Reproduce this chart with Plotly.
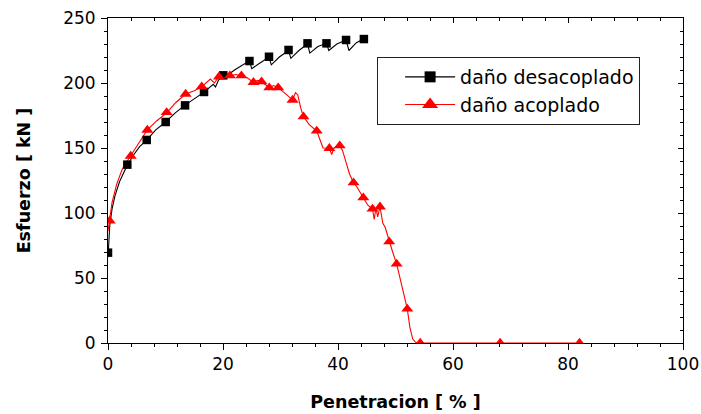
import plotly.graph_objects as go

# ---- data ----
# daño desacoplado (black): curve points and marker points
desac_line_x = [0, 0.3, 0.7, 1.2, 2.0, 3.36, 4.5, 5.5, 6.73, 8.3, 10.03, 11.7, 13.4, 15.0, 16.7,
                18.3, 18.7, 19.2, 20.05, 20.5, 22.0, 24.6, 25.0, 26.3, 28.0, 28.4, 29.8, 31.4,
                31.8, 33.2, 34.7, 35.1, 36.5, 38.0, 38.4, 39.8, 41.4, 41.9, 43.2, 44.5]
desac_line_y = [66, 90, 103, 113, 124, 137, 145, 151, 156, 164, 170, 177, 183, 188, 193,
                199, 197, 202, 206, 205, 210, 217, 211, 215, 220, 214, 220, 225,
                219, 225, 230, 223, 228, 230.5, 225, 230, 233, 225, 231, 234]
desac_mark_x = [0, 3.36, 6.73, 10.03, 13.4, 16.7, 20.05, 24.6, 28.0, 31.4, 34.7, 38.0, 41.4, 44.5]
desac_mark_y = [69.5, 137.2, 156.2, 170, 182.8, 193.1, 205.9, 216.9, 220.2, 225.4, 230.5, 230.5, 233.1, 233.8]

# daño acoplado (red)
acop_line_x = [0, 0.3, 0.7, 1.5, 2.5, 3.94, 5.2, 6.84, 8.5, 10.2, 11.8, 13.5, 15.0, 16.3, 17.8,
               18.5, 19.3, 20.3, 21.2, 22.2, 23.2, 24.2, 25.3, 26.0, 26.7, 27.3, 28.05, 28.8,
               29.6, 30.8, 32.1, 32.6, 33.0, 33.5, 34.0, 35.0, 36.3, 36.9, 37.4, 38.5, 38.9,
               39.3, 40.3, 40.8, 41.3, 42.0, 42.7, 43.3, 44.4, 45.2, 46.0, 46.3, 46.6, 46.9,
               47.3, 47.8, 48.2, 48.9, 49.5, 50.2, 50.8, 51.4, 52.05, 52.5, 53.0, 53.5, 54.3,
               68.2, 82.0]
acop_line_y = [86, 94, 108, 122, 134, 144, 153, 164, 171, 177, 185, 191.5, 194, 197, 203,
               200, 205, 206, 205.6, 206.5, 205.6, 204, 200.5, 202, 201, 199, 196.4, 198,
               196.4, 192, 187, 192.5, 191, 181, 174, 168, 163, 156, 150, 149.8, 145,
               150, 151.8, 148, 140, 130, 123.3, 120, 111.8, 106, 103.1, 95, 104, 97,
               104.8, 92, 89, 77.9, 70, 60.8, 50, 40, 26.2, 12, 3, 0.5, 0,
               0, 0]
acop_mark_x = [0.3, 3.94, 6.84, 10.2, 13.5, 16.3, 19.3, 21.2, 23.2, 25.3, 26.7, 28.05, 29.6,
               32.1, 34.0, 36.3, 38.5, 40.3, 42.7, 44.4, 46.0, 47.3, 48.9, 50.2, 52.05, 54.3,
               68.2, 82.0]
acop_mark_y = [94, 143.8, 163.8, 177.4, 191.5, 197.2, 204.8, 205.6, 205.6, 200.5, 201, 196.4,
               196.4, 186.9, 174.1, 163.1, 149.8, 151.8, 123.3, 111.8, 103.1, 104.8, 77.9,
               60.8, 26.2, 0, 0, 0]

series_names = ["daño desacoplado", "daño acoplado"]
x_title = "Penetracion [ % ]"
y_title = "Esfuerzo [ kN ]"
x_ticks = [0, 20, 40, 60, 80, 100]
y_ticks = [0, 50, 100, 150, 200, 250]

FONT = "DejaVu Sans"
BLACK = "#000000"
RED = "#ff0000"

fig = go.Figure()

# lines
fig.add_trace(go.Scatter(x=desac_line_x, y=desac_line_y, mode="lines",
                         line=dict(color=BLACK, width=1.1), showlegend=False, hoverinfo="skip"))
fig.add_trace(go.Scatter(x=acop_line_x, y=acop_line_y, mode="lines",
                         line=dict(color=RED, width=1.1), showlegend=False, hoverinfo="skip"))
# markers
fig.add_trace(go.Scatter(x=desac_mark_x, y=desac_mark_y, mode="markers",
                         marker=dict(symbol="square", size=8.5, color=BLACK), showlegend=False))
fig.add_trace(go.Scatter(x=acop_mark_x, y=acop_mark_y, mode="markers",
                         marker=dict(symbol="triangle-up", size=10.5, color=RED), showlegend=False))
# legend entries
fig.add_trace(go.Scatter(x=[None], y=[None], mode="lines+markers", name=series_names[0],
                         line=dict(color=BLACK, width=1.1),
                         marker=dict(symbol="square", size=11, color=BLACK)))
fig.add_trace(go.Scatter(x=[None], y=[None], mode="lines+markers", name=series_names[1],
                         line=dict(color=RED, width=1.1),
                         marker=dict(symbol="triangle-up", size=14, color=RED)))
# dummy trace for top/right mirror axes
fig.add_trace(go.Scatter(x=[None], y=[None], xaxis="x2", yaxis="y2", showlegend=False,
                         hoverinfo="skip"))

tickfont = dict(family=FONT, size=17, color="black")
titlefont = dict(family=FONT, size=17.5, color="black", weight="bold")

fig.update_layout(
    template="none",
    width=701, height=414,
    margin=dict(l=108, r=18, t=18, b=71, autoexpand=False),
    paper_bgcolor="white", plot_bgcolor="white",
    xaxis=dict(range=[0, 100], tickvals=x_ticks, ticks="outside", ticklen=6, tickwidth=1,
               tickcolor="black", linecolor="black", linewidth=1, showline=True,
               showgrid=False, zeroline=False, tickfont=tickfont, automargin=False,
               minor=dict(dtick=4, tick0=0, ticks="outside", ticklen=3, tickcolor="black",
                          showgrid=False),
               title=dict(text=x_title, font=titlefont, standoff=22)),
    yaxis=dict(range=[0, 250], tickvals=y_ticks, ticks="outside", ticklen=6, tickwidth=1,
               tickcolor="black", linecolor="black", linewidth=1, showline=True,
               showgrid=False, zeroline=False, tickfont=tickfont, automargin=False,
               ticklabelstandoff=2,
               minor=dict(dtick=10, tick0=0, ticks="outside", ticklen=3, tickcolor="black",
                          showgrid=False),
               title=dict(text=y_title, font=titlefont, standoff=28)),
    xaxis2=dict(range=[0, 100], overlaying="x", side="top", anchor="y", tickvals=x_ticks,
                ticks="inside", ticklen=5, tickcolor="black", showticklabels=False,
                showline=True, linecolor="black", linewidth=1, showgrid=False, zeroline=False,
                automargin=False,
                minor=dict(dtick=4, tick0=0, ticks="inside", ticklen=3, tickcolor="black",
                           showgrid=False)),
    yaxis2=dict(range=[0, 250], overlaying="y", side="right", anchor="x", tickvals=y_ticks,
                ticks="inside", ticklen=5, tickcolor="black", showticklabels=False,
                showline=True, linecolor="black", linewidth=1, showgrid=False, zeroline=False,
                automargin=False,
                minor=dict(dtick=10, tick0=0, ticks="inside", ticklen=3, tickcolor="black",
                           showgrid=False)),
    legend=dict(x=0.468, y=0.88, xanchor="left", yanchor="top",
                bgcolor="white", bordercolor="#222222", borderwidth=1,
                font=dict(family=FONT, size=19, color="black"),
                itemwidth=50, tracegroupgap=0, indentation=22, entrywidth=248),
    showlegend=True,
)

# remove the browser's default page margin so the 701x414 figure fills the window
fig.write_html("out.html",
               config={"displayModeBar": False},
               post_script="document.body.style.margin='0';document.body.style.overflow='hidden';")
